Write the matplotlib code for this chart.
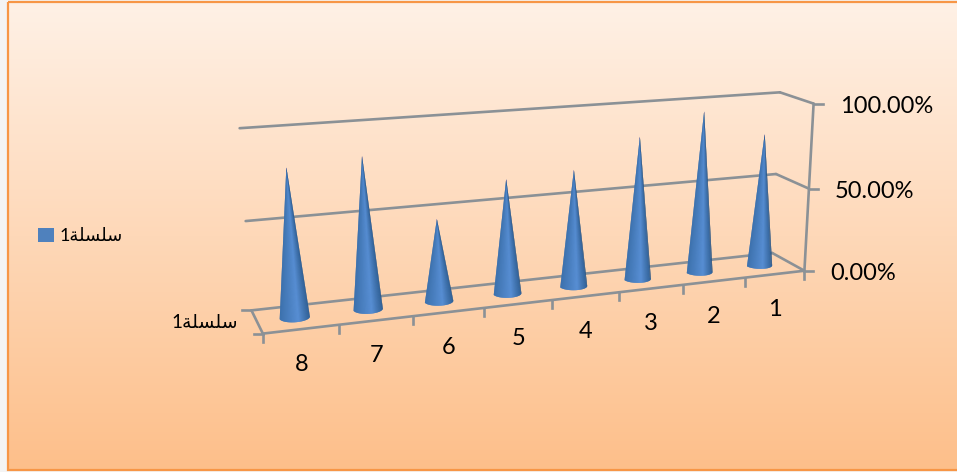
import numpy as np
import matplotlib
matplotlib.use('Agg')
import matplotlib.pyplot as plt
from matplotlib.collections import PolyCollection
from matplotlib.colors import to_rgb
from matplotlib.patches import Patch, Rectangle, Polygon

# chart values
categories = ['1', '2', '3', '4', '5', '6', '7', '8']
values = [0.80, 0.96, 0.84, 0.68, 0.66, 0.47, 0.85, 0.82]
value_ticks = [0.0, 0.5, 1.0]
value_labels = ['0.00%', '50.00%', '100.00%']
# presentation forms in visual order, matplotlib does no arabic shaping
series_name = '1\ufe94\ufee0\ufeb4\ufee0\ufeb3'

FONT = ['Lato', 'DejaVu Sans']
GRID = '#8b9196'
LW = 1.9
n = len(categories)

# box corners (cat pos, depth, value) -> pixel, used to fit the perspective
calib = [
    (0, 0, 0, 263, 334), (8, 0, 0, 805, 271), (8, 1, 0, 772, 253), (0, 1, 0, 252, 311),
    (8, 0, 1, 814, 104), (8, 1, 1, 780, 92), (0, 1, 1, 240, 128),
    (8, 0, .5, 808, 189), (8, 1, .5, 776, 174), (0, 1, .5, 245, 221),
    (1, 0, 0, 339, 325), (4, 0, 0, 552, 298), (7, 0, 0, 745, 278),
]
A, b = [], []
for X, Y, Z, px, py in calib:
    A.append([X, Y, Z, 1, 0, 0, 0, 0, -px * X, -px * Y, -px * Z])
    A.append([0, 0, 0, 0, X, Y, Z, 1, -py * X, -py * Y, -py * Z])
    b += [px, py]
P = np.append(np.linalg.lstsq(np.array(A, float), np.array(b, float), rcond=None)[0], 1).reshape(3, 4)


def proj(t, d, v):
    t, d, v = np.broadcast_arrays(t, d, v)
    q = P @ np.vstack([t.ravel(), d.ravel(), v.ravel(), np.ones(t.size)])
    return q[0] / q[2], q[1] / q[2]


def seg(ax, a, b):
    x, y = proj(np.array([a[0], b[0]]), np.array([a[1], b[1]]), np.array([a[2], b[2]]))
    ax.plot(x, y, color=GRID, lw=LW, solid_capstyle='round', zorder=2)


def shade(f):
    dark_l, light, dark_r = map(np.array, map(to_rgb, ['#3a6ea8', '#5e95dc', '#2a5787']))
    if f < 0.62:
        return dark_l + (light - dark_l) * f / 0.62
    return light + (dark_r - light) * (f - 0.62) / 0.38


def cone(ax, t, v, rt=0.2, rd=0.2):
    # front half of the base only, the back of the cone is never seen
    th = np.linspace(np.pi, 2 * np.pi, 81)
    bx, by = proj(t + rt * np.cos(th), 0.5 + rd * np.sin(th), 0.0)
    tx, ty = proj(t, 0.5, v)
    # plain outline below for a clean antialiased edge
    ax.add_patch(Polygon(np.column_stack([np.append(bx, tx), np.append(by, ty)]), closed=True,
                         fc='#467cbc', ec='none', zorder=3))
    polys, cols = [], []
    for i in range(len(th) - 1):
        polys.append([(bx[i], by[i]), (bx[i + 1], by[i + 1]), (tx[0], ty[0])])
        cols.append(shade((bx[i] - bx.min()) / (bx.max() - bx.min())))
    ax.add_collection(PolyCollection(polys, facecolors=cols, edgecolors='none', linewidths=0, zorder=3))


fig = plt.figure(figsize=(9.57, 4.72), dpi=100, facecolor='#f4f4f4')
ax = fig.add_axes([0, 0, 1, 1])
ax.axis('off')

# background panel
grad = np.linspace(0, 1, 256)[:, None, None]
top, bottom = np.array(to_rgb('#fff1e6')), np.array(to_rgb('#fdbf8a'))
ax.imshow(top + (bottom - top) * grad, extent=(8, 957, 470, 2), aspect='auto', zorder=0)
ax.add_patch(Rectangle((8, 2), 960, 468, fill=False, ec='#f79646', lw=1.6, zorder=1))
ax.set_xlim(0, 957)
ax.set_ylim(472, 0)

# walls and floor
for v in value_ticks:
    seg(ax, (0, 1, v), (n, 1, v))
    seg(ax, (n, 1, v), (n, 0, v))
    x, y = proj(n, 0, v)
    ax.plot([x[0], x[0] + 9], [y[0], y[0]], color=GRID, lw=LW, zorder=2)
seg(ax, (0, 0, 0), (n, 0, 0))
seg(ax, (n, 0, 0), (n, 0, 1))
seg(ax, (0, 0, 0), (0, 1, 0))

# ticks under the front floor edge
for k in range(n + 1):
    x, y = proj(k, 0, 0)
    ax.plot([x[0], x[0]], [y[0], y[0] + 8], color=GRID, lw=LW, zorder=2)
for d in (0, 1):
    x, y = proj(0, d, 0)
    ax.plot([x[0] - 9, x[0]], [y[0], y[0]], color=GRID, lw=LW, zorder=2)

for c, v in zip(categories, values):
    cone(ax, n - int(c) + 0.5, v)

for c in categories:
    x, y = proj(n - int(c) + 0.5, 0, 0)
    ax.text(x[0], y[0] + 35, c, family=FONT, fontsize=17, ha='center', va='center', color='black')
for v, lab in zip(value_ticks, value_labels):
    x, y = proj(n, 0, v)
    ax.text(x[0] + 26, y[0] + 3, lab, family=FONT, fontsize=17, ha='left', va='center', color='black')

ax.text(238, 322, series_name, family=FONT, fontsize=13.5, ha='right', va='center', color='black')

leg = ax.legend(handles=[Patch(facecolor='#4f81bd', label=series_name)], loc='center left',
                bbox_to_anchor=(22 / 957, 1 - 236 / 472), frameon=False, handlelength=0.85,
                handleheight=0.85, handletextpad=0.35, prop={'family': FONT, 'size': 13})

fig.savefig('out.png', dpi=100)
